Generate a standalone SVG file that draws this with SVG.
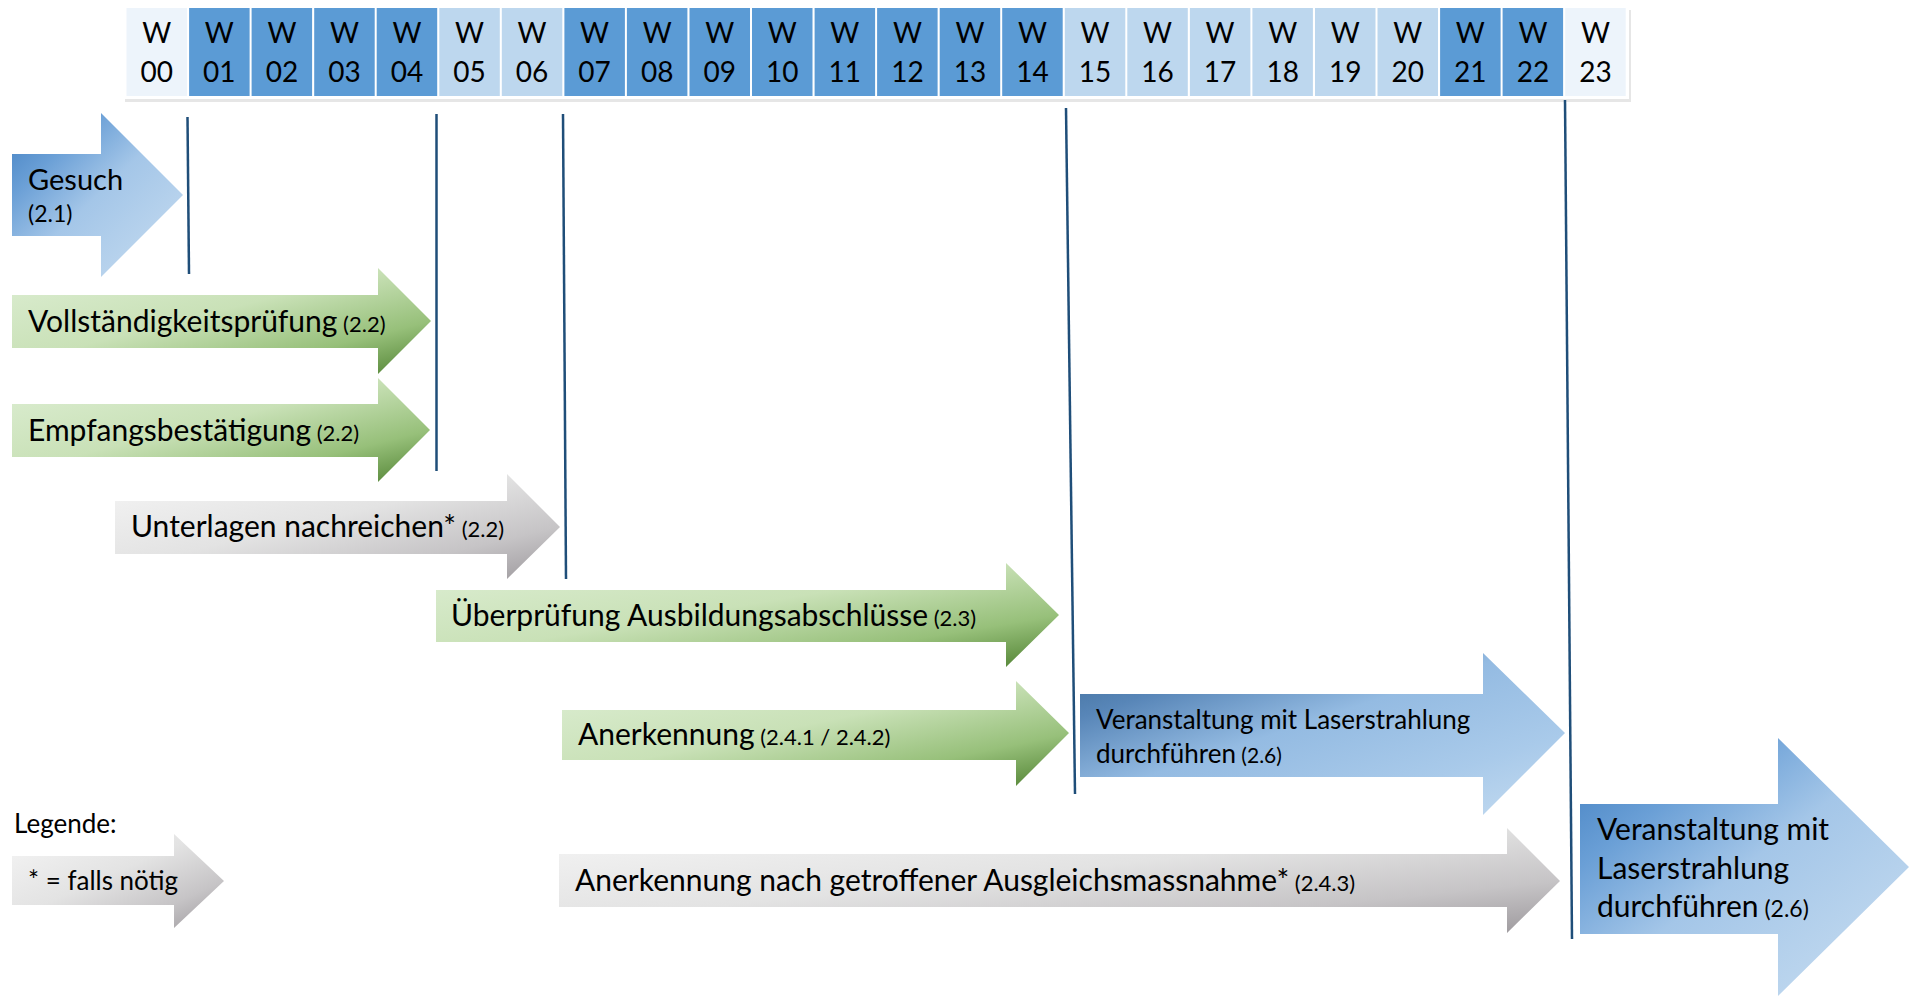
<svg xmlns="http://www.w3.org/2000/svg" width="1910" height="997" viewBox="0 0 1910 997">
<style>
text{font-family:Lato,"Open Sans","Liberation Sans",sans-serif;fill:#000}
.wk{font-size:28px;text-anchor:middle}
.lbl{font-size:30px}
.ref{font-size:22px}
.mid{font-size:26px}
.leg{font-size:26px}
.c0{fill:#EDF4FB}
.c1{fill:#5B9BD5}
.c2{fill:#BDD7EE}
.vl{stroke:#1F4E79;stroke-width:2.5;fill:none}
</style>
<defs>
<linearGradient id="gGreen" x1="0" y1="0" x2="1" y2="1">
<stop offset="0" stop-color="#DDEED3"/>
<stop offset="0.45" stop-color="#C9E1B7"/>
<stop offset="0.75" stop-color="#97C07A"/>
<stop offset="1" stop-color="#4E8030"/>
</linearGradient>
<linearGradient id="gGrey" x1="0" y1="0" x2="1" y2="1">
<stop offset="0" stop-color="#F5F5F5"/>
<stop offset="0.45" stop-color="#E3E3E3"/>
<stop offset="0.75" stop-color="#C6C4C6"/>
<stop offset="1" stop-color="#9C989C"/>
</linearGradient>
<linearGradient id="gBlue" x1="0" y1="0" x2="1" y2="1">
<stop offset="0" stop-color="#3F7DBF"/>
<stop offset="0.25" stop-color="#6A9FD6"/>
<stop offset="0.5" stop-color="#A4C6E8"/>
<stop offset="1" stop-color="#C9DEF1"/>
</linearGradient>
<linearGradient id="gBlueDark" x1="0" y1="0" x2="1" y2="1">
<stop offset="0" stop-color="#3D6B98"/>
<stop offset="0.2" stop-color="#5886B8"/>
<stop offset="0.45" stop-color="#94BBE2"/>
<stop offset="0.75" stop-color="#A9CAEA"/>
<stop offset="1" stop-color="#C4DBF0"/>
</linearGradient>
</defs>

<g id="header">
<rect x="125" y="10" width="1506" height="92" fill="#E6E6E6"/>
<rect x="124" y="6" width="1505" height="93" fill="#FFFFFF"/>
<g id="w00"><rect class="c0" x="126.5" y="8" width="60.5" height="88"/><text class="wk" x="156.8" y="43">W</text><text class="wk" x="156.8" y="82">00</text></g>
<g id="w01"><rect class="c1" x="189.1" y="8" width="60.5" height="88"/><text class="wk" x="219.3" y="43">W</text><text class="wk" x="219.3" y="82">01</text></g>
<g id="w02"><rect class="c1" x="251.6" y="8" width="60.5" height="88"/><text class="wk" x="281.9" y="43">W</text><text class="wk" x="281.9" y="82">02</text></g>
<g id="w03"><rect class="c1" x="314.2" y="8" width="60.5" height="88"/><text class="wk" x="344.4" y="43">W</text><text class="wk" x="344.4" y="82">03</text></g>
<g id="w04"><rect class="c1" x="376.7" y="8" width="60.5" height="88"/><text class="wk" x="407.0" y="43">W</text><text class="wk" x="407.0" y="82">04</text></g>
<g id="w05"><rect class="c2" x="439.3" y="8" width="60.5" height="88"/><text class="wk" x="469.5" y="43">W</text><text class="wk" x="469.5" y="82">05</text></g>
<g id="w06"><rect class="c2" x="501.8" y="8" width="60.5" height="88"/><text class="wk" x="532.1" y="43">W</text><text class="wk" x="532.1" y="82">06</text></g>
<g id="w07"><rect class="c1" x="564.4" y="8" width="60.5" height="88"/><text class="wk" x="594.6" y="43">W</text><text class="wk" x="594.6" y="82">07</text></g>
<g id="w08"><rect class="c1" x="626.9" y="8" width="60.5" height="88"/><text class="wk" x="657.2" y="43">W</text><text class="wk" x="657.2" y="82">08</text></g>
<g id="w09"><rect class="c1" x="689.5" y="8" width="60.5" height="88"/><text class="wk" x="719.7" y="43">W</text><text class="wk" x="719.7" y="82">09</text></g>
<g id="w10"><rect class="c1" x="752.0" y="8" width="60.5" height="88"/><text class="wk" x="782.3" y="43">W</text><text class="wk" x="782.3" y="82">10</text></g>
<g id="w11"><rect class="c1" x="814.6" y="8" width="60.5" height="88"/><text class="wk" x="844.8" y="43">W</text><text class="wk" x="844.8" y="82">11</text></g>
<g id="w12"><rect class="c1" x="877.1" y="8" width="60.5" height="88"/><text class="wk" x="907.4" y="43">W</text><text class="wk" x="907.4" y="82">12</text></g>
<g id="w13"><rect class="c1" x="939.7" y="8" width="60.5" height="88"/><text class="wk" x="969.9" y="43">W</text><text class="wk" x="969.9" y="82">13</text></g>
<g id="w14"><rect class="c1" x="1002.2" y="8" width="60.5" height="88"/><text class="wk" x="1032.5" y="43">W</text><text class="wk" x="1032.5" y="82">14</text></g>
<g id="w15"><rect class="c2" x="1064.8" y="8" width="60.5" height="88"/><text class="wk" x="1095.0" y="43">W</text><text class="wk" x="1095.0" y="82">15</text></g>
<g id="w16"><rect class="c2" x="1127.3" y="8" width="60.5" height="88"/><text class="wk" x="1157.6" y="43">W</text><text class="wk" x="1157.6" y="82">16</text></g>
<g id="w17"><rect class="c2" x="1189.9" y="8" width="60.5" height="88"/><text class="wk" x="1220.1" y="43">W</text><text class="wk" x="1220.1" y="82">17</text></g>
<g id="w18"><rect class="c2" x="1252.4" y="8" width="60.5" height="88"/><text class="wk" x="1282.7" y="43">W</text><text class="wk" x="1282.7" y="82">18</text></g>
<g id="w19"><rect class="c2" x="1315.0" y="8" width="60.5" height="88"/><text class="wk" x="1345.2" y="43">W</text><text class="wk" x="1345.2" y="82">19</text></g>
<g id="w20"><rect class="c2" x="1377.5" y="8" width="60.5" height="88"/><text class="wk" x="1407.8" y="43">W</text><text class="wk" x="1407.8" y="82">20</text></g>
<g id="w21"><rect class="c1" x="1440.1" y="8" width="60.5" height="88"/><text class="wk" x="1470.3" y="43">W</text><text class="wk" x="1470.3" y="82">21</text></g>
<g id="w22"><rect class="c1" x="1502.6" y="8" width="60.5" height="88"/><text class="wk" x="1532.9" y="43">W</text><text class="wk" x="1532.9" y="82">22</text></g>
<g id="w23"><rect class="c0" x="1565.2" y="8" width="60.5" height="88"/><text class="wk" x="1595.4" y="43">W</text><text class="wk" x="1595.4" y="82">23</text></g>
</g>

<g id="gesuch">
<path d="M12,154 H101 V113 L183,195 L101,277 V236 H12 Z" fill="url(#gBlue)"/>
<text class="lbl" x="28" y="190" style="font-size:29px">Gesuch</text>
<text class="ref" x="28" y="222" style="font-size:23px">(2.1)</text>
</g>
<g id="vollstaendigkeit">
<path d="M12,295 H378 V268 L431,321 L378,374 V348 H12 Z" fill="url(#gGreen)"/>
<text class="lbl" x="28" y="332">Vollständigkeitsprüfung<tspan class="ref"> (2.2)</tspan></text>
</g>
<g id="empfang">
<path d="M12,404 H378 V378 L430,430 L378,482 V457 H12 Z" fill="url(#gGreen)"/>
<text class="lbl" x="28" y="441">Empfangsbestätigung<tspan class="ref"> (2.2)</tspan></text>
</g>
<g id="unterlagen">
<path d="M115,501 H507 V474 L560,527 L507,579 V554 H115 Z" fill="url(#gGrey)"/>
<text class="lbl" x="131" y="537">Unterlagen nachreichen*<tspan class="ref"> (2.2)</tspan></text>
</g>
<g id="ueberpruefung">
<path d="M436,590 H1006 V563 L1059,615 L1006,667 V642 H436 Z" fill="url(#gGreen)"/>
<text class="lbl" x="451" y="626">Überprüfung Ausbildungsabschlüsse<tspan class="ref"> (2.3)</tspan></text>
</g>
<g id="anerkennung">
<path d="M562,710 H1016 V681 L1069,733 L1016,786 V760 H562 Z" fill="url(#gGreen)"/>
<text class="lbl" x="578" y="745">Anerkennung<tspan class="ref"> (2.4.1 / 2.4.2)</tspan></text>
</g>
<g id="veranstaltung1">
<path d="M1080,694 H1483 V653 L1565,733 L1483,815 V777 H1080 Z" fill="url(#gBlueDark)"/>
<text class="mid" x="1096" y="729">Veranstaltung mit Laserstrahlung</text>
<text class="mid" x="1096" y="763">durchführen<tspan class="ref" style="font-size:21px"> (2.6)</tspan></text>
</g>
<g id="anerkennung-ausgleich">
<path d="M559,854 H1507 V828 L1560,881 L1507,933 V907 H559 Z" fill="url(#gGrey)"/>
<text class="lbl" x="575" y="891">Anerkennung nach getroffener Ausgleichsmassnahme*<tspan class="ref"> (2.4.3)</tspan></text>
</g>
<g id="veranstaltung2">
<path d="M1580,804 H1778 V738 L1909,867 L1778,996 V934 H1580 Z" fill="url(#gBlue)"/>
<text class="lbl" x="1597" y="840">Veranstaltung mit</text>
<text class="lbl" x="1597" y="879">Laserstrahlung</text>
<text class="lbl" x="1597" y="917">durchführen<tspan class="ref" style="font-size:23px"> (2.6)</tspan></text>
</g>
<g id="legende">
<text class="leg" x="14" y="833">Legende:</text>
<path d="M12,856 H174 V834 L224,881 L174,928 V905 H12 Z" fill="url(#gGrey)"/>
<text class="leg" x="28" y="890">* = falls nötig</text>
</g>

<g id="connectors">
<line class="vl" x1="187.5" y1="117" x2="189" y2="274"/>
<line class="vl" x1="436.5" y1="114" x2="436.5" y2="471"/>
<line class="vl" x1="563" y1="114" x2="566" y2="579"/>
<line class="vl" x1="1066" y1="108" x2="1075" y2="794"/>
<line class="vl" x1="1565" y1="100" x2="1572" y2="939"/>
</g>
</svg>
